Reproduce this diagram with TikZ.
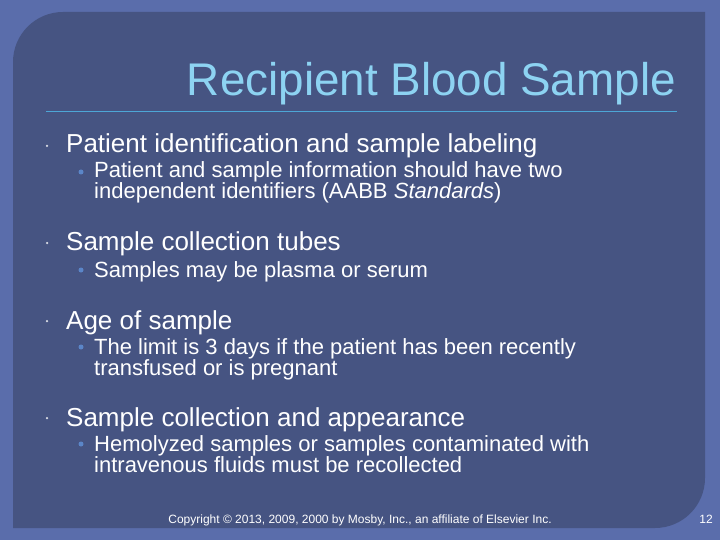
\documentclass[tikz,border=0pt]{standalone}
\usepackage{fontspec}
\setmainfont{Liberation Sans}
\definecolor{outerbg}{HTML}{5A6DAB}
\definecolor{panel}{HTML}{465482}
\definecolor{titlec}{HTML}{8DD3F2}
\definecolor{rulec}{HTML}{4DA6D6}
\definecolor{subdot}{HTML}{5B86C8}
\tikzset{
 main/.style={anchor=base west,text=white,font=\fontsize{26}{29}\selectfont,inner sep=0pt},
 sub/.style={anchor=base west,text=white,font=\fontsize{22}{24}\selectfont,inner sep=0pt},
 mdot/.style={circle,fill=white!80!panel,inner sep=0pt,minimum size=2.5pt},
 sdot/.style={circle,fill=subdot,inner sep=0pt,minimum size=5pt}
}
\begin{document}
\begin{tikzpicture}[x=1pt,y=-1pt]
\useasboundingbox (0,0) rectangle (720,540);
\fill[outerbg] (0,0) rectangle (720,540);
\fill[panel] (13,528) -- (13,62) arc[start angle=180,end angle=270,radius=50] -- (705,12) -- (705,478) arc[start angle=0,end angle=90,radius=50] -- cycle;
\node[anchor=base east,text=titlec,font=\fontsize{45.8}{50}\selectfont,inner sep=0pt] (title) at (676,96) {Recipient Blood Sample};
\draw[rulec,line width=1pt] (46,112) -- (677,112);
\node[mdot] (d1) at (47,146) {};
\node[main] (m1) at (66,153) {Patient identification and sample labeling};
\node[sdot] (s1) at (81,172) {};
\node[sub] (t1) at (94,178) {Patient and sample information should have two};
\node[sub] (t1b) at (94,199) {independent identifiers (AABB \textit{Standards})};
\node[mdot] (d2) at (47,243) {};
\node[main] (m2) at (66,251) {Sample collection tubes};
\node[sdot] (s2) at (81,270) {};
\node[sub] (t2) at (94,277) {Samples may be plasma or serum};
\node[mdot] (d3) at (47,321) {};
\node[main] (m3) at (66,329) {Age of sample};
\node[sdot] (s3) at (81,347) {};
\node[sub] (t3) at (94,354) {The limit is 3 days if the patient has been recently};
\node[sub] (t3b) at (94,375) {transfused or is pregnant};
\node[mdot] (d4) at (47,418) {};
\node[main] (m4) at (66,426) {Sample collection and appearance};
\node[sdot] (s4) at (81,444) {};
\node[sub] (t4) at (94,451) {Hemolyzed samples or samples contaminated with};
\node[sub] (t4b) at (94,472) {intravenous fluids must be recollected};
\node[anchor=base,text=white,font=\fontsize{12}{14}\selectfont,inner sep=0pt] (copy) at (360,523) {Copyright © 2013, 2009, 2000 by Mosby, Inc., an affiliate of Elsevier Inc.};
\node[anchor=base east,text=white,font=\fontsize{12}{14}\selectfont,inner sep=0pt] (pg) at (713,523) {12};
\end{tikzpicture}
\end{document}
